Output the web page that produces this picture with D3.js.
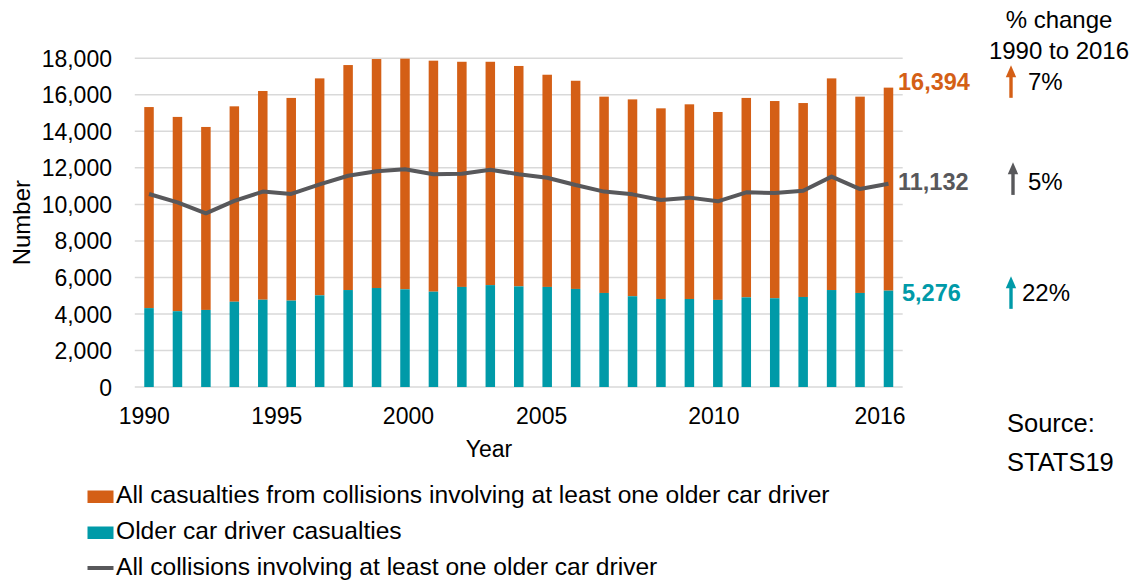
<!DOCTYPE html>
<html>
<head>
<meta charset="utf-8">
<script src="https://cdn.jsdelivr.net/npm/d3@7"></script>
<style>
  html, body { margin: 0; padding: 0; background: #fff; }
  svg { display: block; font-family: "Liberation Sans", Arial, sans-serif; }
</style>
</head>
<body>
<svg id="chart" width="1136" height="581"></svg>
<script>
// ---- Data ----
const years = d3.range(1990, 2017);
const allCasualties = [15330, 14790, 14240, 15370, 16210, 15830, 16900, 17630, 17960, 17980,
  17870, 17810, 17810, 17580, 17100, 16770, 15900, 15750, 15260, 15480,
  15060, 15830, 15660, 15550, 16900, 15900, 16394];
const olderDriverCasualties = [4320, 4150, 4220, 4670, 4780, 4730, 5020, 5310, 5420, 5350,
  5220, 5480, 5580, 5510, 5480, 5370, 5150, 4970, 4820, 4820,
  4770, 4910, 4860, 4930, 5310, 5150, 5276];
const allCollisions = [10570, 10110, 9510, 10190, 10700, 10570, 11100, 11570, 11810, 11920,
  11650, 11680, 11900, 11650, 11460, 11060, 10700, 10550, 10240, 10370,
  10170, 10660, 10620, 10750, 11520, 10840, 11132];
const yTicks = [0, 2000, 4000, 6000, 8000, 10000, 12000, 14000, 16000, 18000];
const xTickYears = [1990, 1995, 2000, 2005, 2010, 2016];
const seriesNames = [
  "All casualties from collisions involving at least one older car driver",
  "Older car driver casualties",
  "All collisions involving at least one older car driver"
];
const endValues = [16394, 11132, 5276];
const pctChange = ["7%", "5%", "22%"];

// ---- Layout / style ----
const W = 1136, H = 581;
const plot = { left: 134.8, right: 902.7, top: 58.3, bottom: 387 };
const colors = { orange: "#D45F16", teal: "#009AA8", gray: "#58585B", grid: "#D9D9D9" };
const xTickShift = [-4.7, -14.5, -25, -34, -4, -8.5]; // label placement as in the original
const svg = d3.select("#chart");

const x = d3.scaleBand().domain(years).range([plot.left, plot.right])
  .paddingInner(0.666).paddingOuter(0.333);
const y = d3.scaleLinear().domain([0, 18000]).range([plot.bottom, plot.top]);

// gridlines
svg.append("g").selectAll("line").data(yTicks).join("line")
  .attr("x1", plot.left).attr("x2", plot.right)
  .attr("y1", d => y(d)).attr("y2", d => y(d))
  .attr("stroke", colors.grid).attr("stroke-width", 1.5);

// y axis labels
const yAxis = d3.axisLeft(y).tickValues(yTicks).tickSize(0).tickPadding(0)
  .tickFormat(d3.format(","));
const gy = svg.append("g").attr("transform", `translate(112,0)`).call(yAxis);
gy.select(".domain").remove();
gy.selectAll("text").attr("font-size", 23).attr("fill", "#000")
  .attr("font-family", "Liberation Sans, Arial, sans-serif").attr("dy", "0.35em");

// bars
const data = years.map((yr, i) => ({ yr, total: allCasualties[i], older: olderDriverCasualties[i], coll: allCollisions[i] }));
svg.append("g").selectAll("rect").data(data).join("rect")
  .attr("x", d => x(d.yr)).attr("width", x.bandwidth())
  .attr("y", d => y(d.total)).attr("height", d => y(d.older) - y(d.total))
  .attr("fill", colors.orange);
svg.append("g").selectAll("rect").data(data).join("rect")
  .attr("x", d => x(d.yr)).attr("width", x.bandwidth())
  .attr("y", d => y(d.older)).attr("height", d => y(0) - y(d.older))
  .attr("fill", colors.teal);

// line
const line = d3.line().x(d => x(d.yr) + x.bandwidth() / 2).y(d => y(d.coll));
svg.append("path").datum(data).attr("d", line)
  .attr("fill", "none").attr("stroke", colors.gray).attr("stroke-width", 4)
  .attr("stroke-linejoin", "round");

// x axis labels
const xAxis = d3.axisBottom(x).tickValues(xTickYears).tickSize(0).tickPadding(0);
const gx = svg.append("g").attr("transform", `translate(0,${plot.bottom})`).call(xAxis);
gx.select(".domain").remove();
gx.selectAll(".tick").attr("transform", (d, i) =>
  `translate(${x(d) + x.bandwidth() / 2 + xTickShift[i]},0)`);
gx.selectAll("text").attr("font-size", 23).attr("fill", "#000")
  .attr("font-family", "Liberation Sans, Arial, sans-serif").attr("y", 37).attr("dy", 0);

// axis titles
svg.append("text").attr("x", 489).attr("y", 457).attr("text-anchor", "middle")
  .attr("font-size", 23).text("Year");
svg.append("text").attr("transform", `translate(30,${(plot.top + plot.bottom) / 2}) rotate(-90)`)
  .attr("text-anchor", "middle").attr("font-size", 24).text("Number");

// end value labels
const labelColors = [colors.orange, colors.gray, colors.teal];
const labelDy = [2, 6, 10];
const labelX = [898, 898, 902];
svg.append("g").selectAll("text").data(endValues).join("text")
  .attr("x", (d, i) => labelX[i]).attr("y", (d, i) => y(d) + labelDy[i])
  .attr("font-size", 23.5).attr("font-weight", "bold")
  .attr("fill", (d, i) => labelColors[i]).text(d => d3.format(",")(d));

// % change header
svg.append("text").attr("x", 1059).attr("y", 28).attr("text-anchor", "middle")
  .attr("font-size", 24).text("% change");
svg.append("text").attr("x", 1059).attr("y", 59).attr("text-anchor", "middle")
  .attr("font-size", 24).text("1990 to 2016");

// arrows and percentages
const arrowX = [1011, 1013, 1011];
const arrowShift = [0, -3, 0];
const pctX = [1028, 1028, 1022];
const ag = svg.append("g");
endValues.forEach((v, i) => {
  const base = y(v) + labelDy[i];
  const top = base - 24.5 + arrowShift[i], bottom = base + 8.2 + arrowShift[i];
  ag.append("line").attr("x1", arrowX[i]).attr("x2", arrowX[i])
    .attr("y1", top + 10).attr("y2", bottom)
    .attr("stroke", labelColors[i]).attr("stroke-width", 3.4);
  ag.append("path")
    .attr("d", `M${arrowX[i]},${top} L${arrowX[i] + 5.2},${top + 12} L${arrowX[i] - 5.2},${top + 12} Z`)
    .attr("fill", labelColors[i]);
  ag.append("text").attr("x", pctX[i]).attr("y", base)
    .attr("font-size", 24).attr("fill", "#000").text(pctChange[i]);
});

// source
svg.append("text").attr("x", 1007).attr("y", 432).attr("font-size", 25.5).text("Source:");
svg.append("text").attr("x", 1007).attr("y", 471).attr("font-size", 25.5).text("STATS19");

// legend
const lg = svg.append("g");
const legendY = [503, 539, 575];
seriesNames.forEach((name, i) => {
  if (i < 2) {
    lg.append("rect").attr("x", 87.5).attr("y", legendY[i] - 12.5).attr("width", 26).attr("height", 12.5)
      .attr("fill", i === 0 ? colors.orange : colors.teal);
  } else {
    lg.append("line").attr("x1", 87.5).attr("x2", 113.5)
      .attr("y1", legendY[i] - 7).attr("y2", legendY[i] - 7)
      .attr("stroke", colors.gray).attr("stroke-width", 4);
  }
  lg.append("text").attr("x", 116).attr("y", legendY[i]).attr("font-size", 24.6).text(name);
});
</script>
</body>
</html>
